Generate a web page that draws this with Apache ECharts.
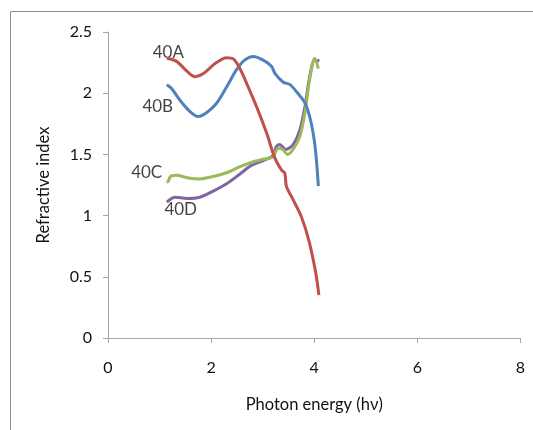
<!DOCTYPE html>
<html><head><meta charset="utf-8">
<script src="https://cdn.jsdelivr.net/npm/echarts@6/dist/echarts.min.js"></script>
<style>html,body{margin:0;padding:0;background:#fff}#c{width:533px;height:430px}</style>
</head><body><div id="c"></div>
<script>
const xA = [1.14,1.33,1.53,1.69,1.85,2.07,2.30,2.43,2.56,2.72,2.91,3.08,3.20,3.27,3.37,3.43,3.46,3.59,3.75,3.90,4.03,4.09];
const yA = [2.285,2.26,2.18,2.135,2.16,2.24,2.29,2.28,2.20,2.05,1.86,1.67,1.51,1.44,1.37,1.345,1.24,1.13,0.99,0.79,0.53,0.35];
const xB = [1.14,1.23,1.40,1.59,1.75,1.91,2.11,2.30,2.49,2.65,2.82,3.01,3.17,3.24,3.40,3.53,3.66,3.82,3.91,3.98,4.03,4.08];
const yB = [2.07,2.04,1.94,1.85,1.81,1.84,1.92,2.05,2.19,2.27,2.30,2.27,2.22,2.16,2.09,2.07,2.01,1.92,1.81,1.67,1.51,1.24];
const xC = [1.14,1.17,1.21,1.33,1.53,1.78,2.04,2.30,2.56,2.82,3.01,3.20,3.30,3.39,3.48,3.59,3.72,3.82,3.91,4.01,4.08];
const yC = [1.27,1.28,1.32,1.33,1.31,1.30,1.32,1.35,1.40,1.44,1.46,1.48,1.55,1.54,1.50,1.54,1.645,1.84,2.11,2.285,2.20];
const xD = [1.14,1.30,1.53,1.78,2.04,2.30,2.56,2.78,3.01,3.20,3.26,3.33,3.45,3.59,3.72,3.82,3.91,4.01,4.10];
const yD = [1.11,1.15,1.14,1.15,1.20,1.26,1.34,1.41,1.45,1.49,1.56,1.58,1.54,1.58,1.70,1.89,2.13,2.27,2.265];
const seriesNames = ['40A','40B','40C','40D'];
const colors = ['#C0504D','#4F81BD','#9BBB59','#8064A2'];
const labelX = [1.17,0.965,0.75,1.41];
const labelY = [2.33,1.89,1.35,1.05];
const xTicks = [0,2,4,6,8];
const yTicks = [0,0.5,1,1.5,2,2.5];

const FONT = 'Lato';
const xs = [xA,xB,xC,xD], ys = [yA,yB,yC,yD];
const series = seriesNames.map((n,i)=>({
  name:n, type:'line', showSymbol:false, symbol:'none', smooth:0.3,
  data: xs[i].map((x,j)=>[x, ys[i][j]]),
  lineStyle:{color:colors[i], width:3}, itemStyle:{color:colors[i]}, z: 4-i
}));
series.push({
  type:'scatter', symbolSize:0, silent:true,
  data: seriesNames.map((n,i)=>({value:[labelX[i],labelY[i]], name:n})),
  label:{show:true, position:'inside', formatter:p=>p.name, color:'#111', fontSize:17, fontFamily:FONT}
});
const chart = echarts.init(document.getElementById('c'));
chart.setOption({
  animation:false,
  backgroundColor:'#fff',
  graphic:[{type:'rect', shape:{x:10.5,y:11.5,width:600,height:600}, style:{fill:'none', stroke:'#8c8c8c', lineWidth:1}, silent:true}],
  grid:{left:108, top:32, right:12.5, bottom:92},
  xAxis:{type:'value', min:xTicks[0], max:xTicks[xTicks.length-1], interval:2,
    name:'Photon energy (hν)', nameLocation:'middle', nameGap:58,
    nameTextStyle:{fontSize:16.5, fontFamily:FONT, color:'#111'},
    axisLine:{show:true, lineStyle:{color:'#a6a6a6'}},
    axisTick:{show:true, inside:false, length:5, lineStyle:{color:'#a6a6a6'}},
    axisLabel:{fontSize:16, fontFamily:FONT, color:'#111', margin:22},
    splitLine:{show:false}},
  yAxis:{type:'value', min:yTicks[0], max:yTicks[yTicks.length-1], interval:0.5,
    name:'Refractive index', nameLocation:'middle', nameGap:56, nameRotate:90,
    nameTextStyle:{fontSize:16.5, fontFamily:FONT, color:'#111'},
    axisLine:{show:true, lineStyle:{color:'#a6a6a6'}},
    axisTick:{show:true, inside:false, length:5, lineStyle:{color:'#a6a6a6'}},
    axisLabel:{fontSize:16, fontFamily:FONT, color:'#111', margin:16},
    splitLine:{show:false}},
  series: series
});
</script></body></html>
